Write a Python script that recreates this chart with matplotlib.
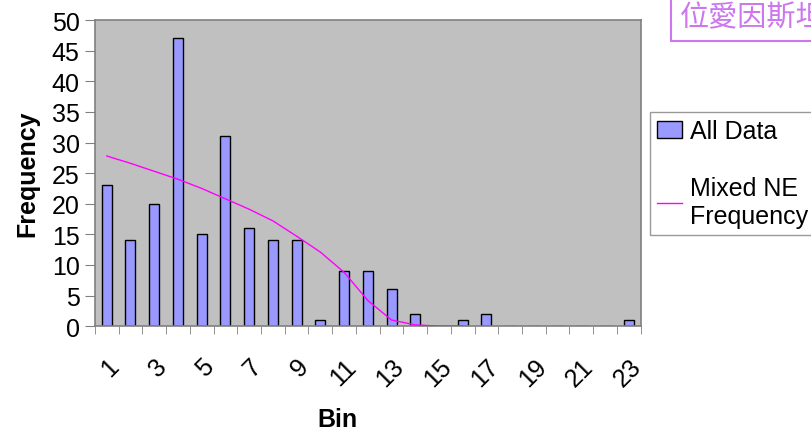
import numpy as np
import matplotlib.pyplot as plt

plt.rcParams['font.family'] = ['Liberation Sans', 'DejaVu Sans']

bins = list(range(1, 24))
all_data = [23, 14, 20, 47, 15, 31, 16, 14, 14, 1, 9, 9, 6, 2, 0, 1, 2, 0, 0, 0, 0, 0, 1]
ne_bins = list(range(1, 17))
ne_freq = [27.8, 26.6, 25.3, 24.0, 22.5, 20.8, 19.1, 17.2, 14.7, 12.1, 8.8, 4.2, 1.0, 0.2, 0.0, 0.0]
tick_labels = [str(b) if b % 2 == 1 else "" for b in bins]

fig = plt.figure(figsize=(8.11, 4.31), dpi=100)
ax = fig.add_axes([0.117, 0.241, 0.673, 0.710])
ax.set_facecolor("#c0c0c0")

x = np.arange(len(bins))
bars = ax.bar(x, all_data, width=0.42, color="#9999ff", edgecolor="black", linewidth=1.0,
              label="All Data", zorder=2)
line, = ax.plot(np.arange(len(ne_bins)), ne_freq, color="#ff00ff", linewidth=1.0,
                label="Mixed NE\nFrequency", zorder=3)

ax.set_xlim(-0.5, len(bins) - 0.5)
ax.set_ylim(0, 50)
ax.set_yticks(range(0, 51, 5))
ax.tick_params(axis="y", labelsize=18, length=7, color="#808080", direction="out", pad=4)

ax.set_xticks(x)
ax.set_xticklabels(tick_labels, rotation=45, ha="right", rotation_mode="anchor", fontsize=18)
ax.tick_params(axis="x", length=0, pad=20)
ax.set_xticks(np.arange(-0.5, len(bins)), minor=True)
ax.tick_params(axis="x", which="minor", length=6, color="#808080", direction="out")

for s in ax.spines.values():
    s.set_color("#808080")
    s.set_linewidth(1.2)

ax.set_ylabel("Frequency", fontsize=18, fontweight="bold", labelpad=9)
ax.set_xlabel("Bin", fontsize=18, fontweight="bold")
ax.xaxis.set_label_coords(0.445, -0.265)

fig.legend([bars, line], ["All Data", "Mixed NE\nFrequency"], loc="upper left",
           bbox_to_anchor=(0.801, 0.738), fontsize=18,
           frameon=True, fancybox=False, edgecolor="#808080", labelspacing=1.3,
           handlelength=1.0, handletextpad=0.3, borderpad=0.3, borderaxespad=0)

fig.text(0.838, 0.958, "位愛因斯坦", fontsize=21, color="#cc77ee", va="center", ha="left",
         family=["Noto Sans CJK TC", "DejaVu Sans"],
         bbox=dict(boxstyle="square,pad=0.3", facecolor="white", edgecolor="#cc77ee", linewidth=1.5))

plt.savefig("out.png", dpi=100)
